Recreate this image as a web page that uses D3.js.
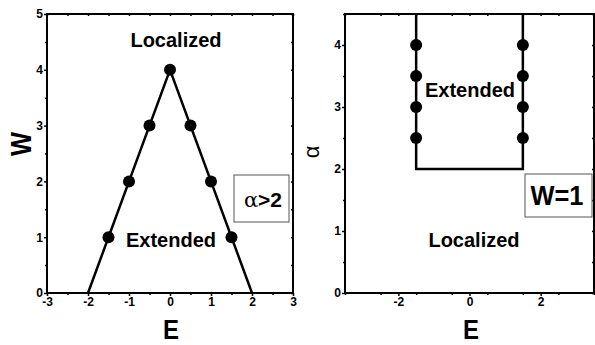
<!DOCTYPE html>
<html lang="en">
<head>
    <meta charset="UTF-8">
    <title>Phase diagrams</title>
    <style>
        body { margin: 0; background: #fff; }
        text { font-family: Arial, "Liberation Sans", sans-serif; }
        .tick text { font-size: 12px; font-weight: bold; }
        .lbl { font-size: 20px; font-weight: bold; }
    </style>
</head>
<body>
<svg width="595" height="345"></svg>
<script src="https://cdn.jsdelivr.net/npm/d3@7"></script>
<script>
    // left panel: W vs E, alpha > 2
    var leftE = [-1.5, -1, -0.5, 0, 0.5, 1, 1.5];
    var leftW = [1, 2, 3, 4, 3, 2, 1];
    var leftLineE = [-2, 0, 2];
    var leftLineW = [0, 4, 0];
    var leftXTicks = [-3, -2, -1, 0, 1, 2, 3];
    var leftYTicks = [0, 1, 2, 3, 4, 5];

    // right panel: alpha vs E, W = 1
    var rightE = [-1.5, -1.5, -1.5, -1.5, 1.5, 1.5, 1.5, 1.5];
    var rightA = [2.5, 3, 3.5, 4, 2.5, 3, 3.5, 4];
    var rightLineE = [-1.5, -1.5, 1.5, 1.5];
    var rightLineA = [4.5, 2, 2, 4.5];
    var rightXTicks = [-2, 0, 2];
    var rightYTicks = [0, 1, 2, 3, 4];

    var svg = d3.select("svg");
    var fmt = d => String(d);   // plain hyphen minus like the original

    function panel(opt) {
        var x = d3.scaleLinear().domain(opt.xd).range([opt.x0, opt.x1]);
        var y = d3.scaleLinear().domain(opt.yd).range([opt.y1, opt.y0]);
        var g = svg.append("g");

        // minor ticks
        var xMinor = d3.range(opt.xd[0], opt.xd[1] + 1e-9, opt.xm).filter(v => opt.xt.indexOf(v) < 0);
        var yMinor = d3.range(opt.yd[0], opt.yd[1] + 1e-9, opt.ym).filter(v => opt.yt.indexOf(v) < 0);

        g.append("g").attr("transform", `translate(0,${opt.y1})`)
            .call(d3.axisBottom(x).tickValues(xMinor).tickSize(2).tickFormat(""));
        g.append("g").attr("transform", `translate(0,${opt.y1})`)
            .call(d3.axisBottom(x).tickValues(opt.xt).tickSize(3).tickPadding(1).tickFormat(fmt));
        g.append("g").attr("transform", `translate(${opt.x0},0)`)
            .call(d3.axisLeft(y).tickValues(yMinor).tickSize(2).tickFormat(""));
        g.append("g").attr("transform", `translate(${opt.x0},0)`)
            .call(d3.axisLeft(y).tickValues(opt.yt).tickSize(3).tickPadding(1).tickFormat(fmt));
        g.append("g").attr("transform", `translate(0,${opt.y0})`)
            .call(d3.axisBottom(x).tickValues(opt.xt.concat(xMinor)).tickSize(2).tickFormat(""));
        g.append("g").attr("transform", `translate(${opt.x1},0)`)
            .call(d3.axisLeft(y).tickValues(opt.yt.concat(yMinor)).tickSize(2).tickFormat(""));

        g.selectAll(".domain").remove();
        g.selectAll(".tick line").attr("stroke", "#000").attr("stroke-width", 1.5);
        g.selectAll(".tick text").attr("fill", "#000");

        g.append("rect")
            .attr("x", opt.x0).attr("y", opt.y0)
            .attr("width", opt.x1 - opt.x0).attr("height", opt.y1 - opt.y0)
            .attr("fill", "none").attr("stroke", "#000").attr("stroke-width", 2);

        var pts = opt.lx.map((v, i) => [v, opt.ly[i]]);
        g.append("path")
            .attr("d", d3.line().x(d => x(d[0])).y(d => y(d[1]))(pts))
            .attr("fill", "none").attr("stroke", "#000").attr("stroke-width", 2.5);

        g.selectAll("circle.p").data(opt.px.map((v, i) => [v, opt.py[i]]))
            .join("circle").attr("class", "p")
            .attr("cx", d => x(d[0])).attr("cy", d => y(d[1]))
            .attr("r", 6).attr("fill", "#000");

        return {x: x, y: y, g: g};
    }

    var L = panel({
        x0: 47, x1: 293, y0: 14, y1: 293,
        xd: [-3, 3], yd: [0, 5], xm: 0.5, ym: 0.5,
        xt: leftXTicks, yt: leftYTicks,
        lx: leftLineE, ly: leftLineW, px: leftE, py: leftW
    });

    var R = panel({
        x0: 345, x1: 594, y0: 14, y1: 293,
        xd: [-3.5, 3.5], yd: [0, 4.5], xm: 1, ym: 0.5,
        xt: rightXTicks, yt: rightYTicks,
        lx: rightLineE, ly: rightLineA, px: rightE, py: rightA
    });

    // region labels
    L.g.append("text").attr("class", "lbl").attr("x", 176).attr("y", 47).attr("text-anchor", "middle").text("Localized");
    L.g.append("text").attr("class", "lbl").attr("x", 171).attr("y", 247).attr("text-anchor", "middle").text("Extended");
    R.g.append("text").attr("class", "lbl").attr("x", 470).attr("y", 97).attr("text-anchor", "middle").text("Extended");
    R.g.append("text").attr("class", "lbl").attr("x", 474).attr("y", 247).attr("text-anchor", "middle").text("Localized");

    // boxed legends
    L.g.append("rect").attr("x", 234).attr("y", 175).attr("width", 55).attr("height", 47)
        .attr("fill", "#fff").attr("stroke", "#555").attr("stroke-width", 1);
    var t1 = L.g.append("text").attr("x", 263).attr("y", 207).attr("text-anchor", "middle");
    t1.append("tspan").attr("font-size", 21).attr("font-family", "'DejaVu Serif', serif").text("α");
    t1.append("tspan").attr("font-size", 21).attr("font-weight", "bold").text(">2");

    R.g.append("rect").attr("x", 525).attr("y", 174).attr("width", 67).attr("height", 43)
        .attr("fill", "#fff").attr("stroke", "#555").attr("stroke-width", 1);
    R.g.append("text").attr("x", 557).attr("y", 205).attr("text-anchor", "middle")
        .attr("font-size", 27).attr("font-weight", "bold")
        .attr("textLength", 53).attr("lengthAdjust", "spacingAndGlyphs").text("W=1");

    // axis titles
    svg.append("text").attr("x", 171).attr("y", 339).attr("text-anchor", "middle")
        .attr("font-size", 27).attr("font-weight", "bold")
        .attr("textLength", 16).attr("lengthAdjust", "spacingAndGlyphs").text("E");
    svg.append("text").attr("x", 471).attr("y", 339).attr("text-anchor", "middle")
        .attr("font-size", 27).attr("font-weight", "bold")
        .attr("textLength", 16).attr("lengthAdjust", "spacingAndGlyphs").text("E");
    svg.append("text").attr("transform", "translate(31,144) rotate(-90)").attr("text-anchor", "middle")
        .attr("font-size", 29).attr("font-weight", "bold")
        .attr("textLength", 24).attr("lengthAdjust", "spacingAndGlyphs").text("W");
    svg.append("text").attr("transform", "translate(319,152) rotate(-90)").attr("text-anchor", "middle")
        .attr("font-size", 22).attr("font-family", "'DejaVu Serif', serif").text("α");
</script>
</body>
</html>
